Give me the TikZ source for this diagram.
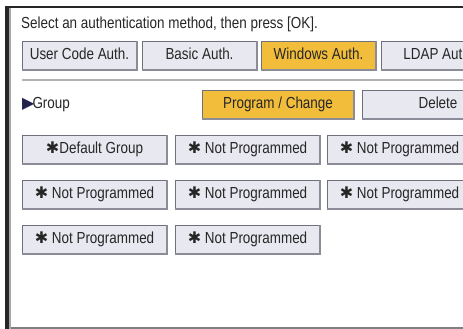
\documentclass[tikz,border=0pt]{standalone}
\usepackage{fontspec}
\setmainfont{Liberation Sans}[FakeStretch=0.84]
\newfontfamily\symfont{DejaVu Sans}
\usepackage{tikz}
\usetikzlibrary{positioning}
\definecolor{btnfill}{HTML}{E8E8F0}
\definecolor{btnedge}{HTML}{70707C}
\definecolor{btnshade}{HTML}{8C8C98}
\definecolor{selfill}{HTML}{F2BD3B}
\definecolor{navy}{HTML}{22224A}
\tikzstyle{btn} = [rectangle, draw=btnedge, fill=btnfill, line width=0.8pt, outer sep=0pt, inner sep=0pt, minimum height=29pt, text=black!85, font=\fontsize{16}{16}\selectfont, execute at begin node={\vphantom{Ag}}]
\tikzstyle{btnon} = [btn, fill=selfill]
\newcommand{\hstar}{{\symfont\fontsize{16}{16}\selectfont ✱}}

\begin{document}
\begin{tikzpicture}[x=1pt, y=-1pt]
                \useasboundingbox (0,0) rectangle (463,329);
                \clip (0,0) rectangle (463,329);
                % frame
                \fill[white] (0,0) rectangle (463,329);
                \fill[black!85] (5,6) rectangle (463,8);
                \fill[black!85] (5,6) rectangle (9,329);
                \fill[gray!70] (9,8) rectangle (11,329);
                \fill[gray] (11,327) rectangle (463,329);

                \node[anchor=base west, inner sep=0pt, font=\fontsize{16}{16}\selectfont, text=black!85] (title) at (21,29) {Select an authentication method, then press [OK].};

                % authentication methods
                \node[btn, minimum width=115pt, anchor=north west] (ucode) at (22,41) {User Code Auth.};
                \node[btn, minimum width=115pt, right=5pt of ucode] (basic) {Basic Auth.};
                \node[btnon, minimum width=115pt, right=4pt of basic] (win) {Windows Auth.};
                \node[btn, minimum width=115pt, right=5pt of win] (ldap) {LDAP Auth.};

                \draw[gray!60, line width=1.5pt] (22,80) -- (463,80);

                % group
                \node[anchor=west, inner sep=0pt, font=\fontsize{16}{16}\selectfont, text=black!85] (group) at (22,105) {{\symfont\fontsize{16}{16}\selectfont\color{navy}▶}\kern-2pt\vphantom{Ag}Group};
                \node[btnon, minimum width=152pt, anchor=north west] (prog) at (202,90) {Program / Change};
                \node[btn, minimum width=152pt, right=8pt of prog] (del) {Delete};

                % group list
                \node[btn, minimum width=145pt, anchor=north west] (g1) at (22,135) {\hstar Default Group};
                \node[btn, minimum width=145pt, right=8pt of g1] (g2) {\hstar\ Not Programmed};
                \node[btn, minimum width=145pt, right=7pt of g2] (g3) {\hstar\ Not Programmed};
                \node[btn, minimum width=145pt, below=16pt of g1] (g4) {\hstar\ Not Programmed};
                \node[btn, minimum width=145pt, right=8pt of g4] (g5) {\hstar\ Not Programmed};
                \node[btn, minimum width=145pt, right=7pt of g5] (g6) {\hstar\ Not Programmed};
                \node[btn, minimum width=145pt, below=16pt of g4] (g7) {\hstar\ Not Programmed};
                \node[btn, minimum width=145pt, right=8pt of g7] (g8) {\hstar\ Not Programmed};

                % button edges
                \foreach \b in {ucode,basic,win,ldap,prog,del,g1,g2,g3,g4,g5,g6,g7,g8}
                    \draw[btnshade, line width=1.6pt] (\b.south west) -- (\b.south east) -- (\b.north east);
            \end{tikzpicture}
\end{document}
